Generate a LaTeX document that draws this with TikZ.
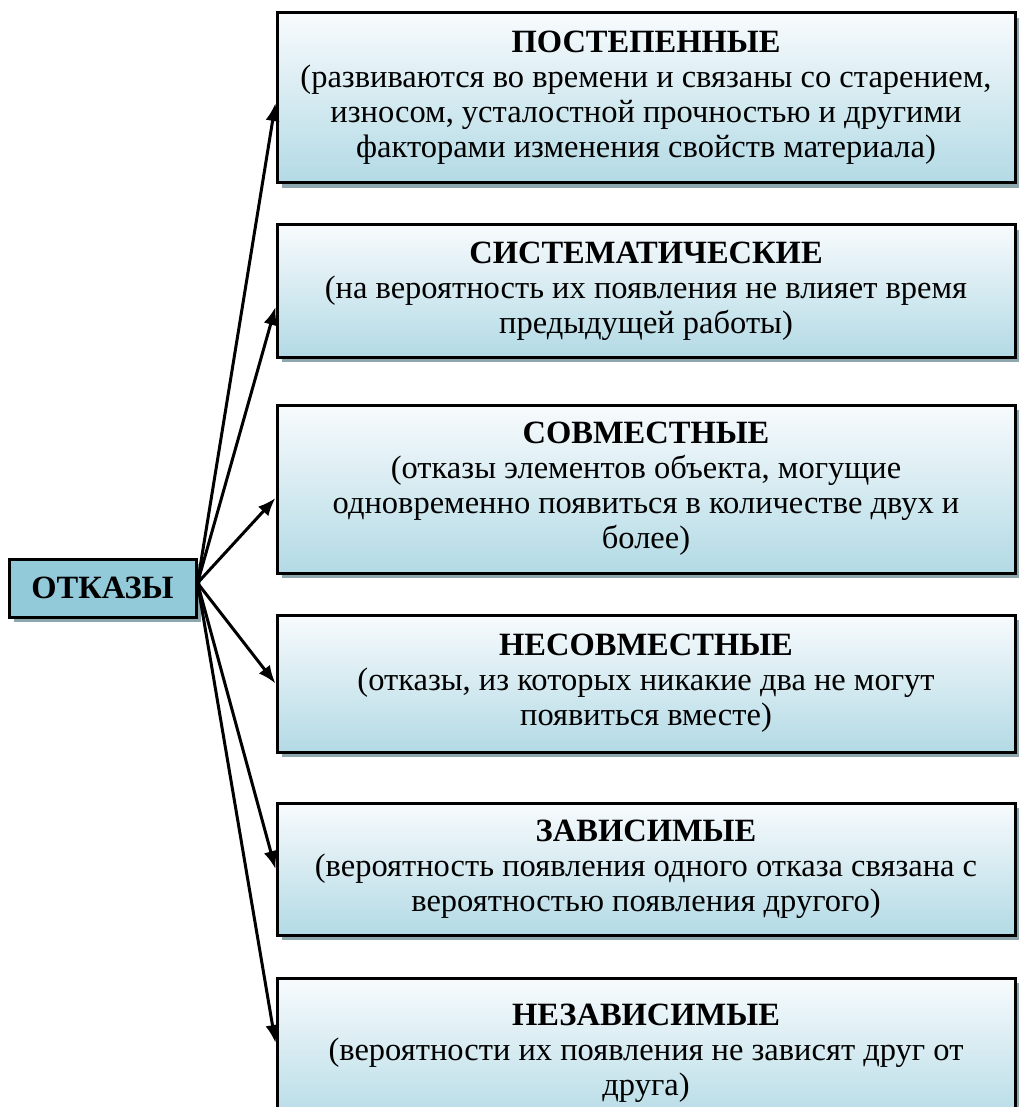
\documentclass[tikz,border=0pt]{standalone}
\usepackage{fontspec}
\setmainfont{Liberation Serif}
\usetikzlibrary{positioning,arrows.meta,shadows}
\definecolor{boxtop}{HTML}{F8FBFD}
\definecolor{boxbot}{HTML}{B3DAE5}
\definecolor{srcblue}{HTML}{92CADA}
\definecolor{shadowgray}{HTML}{8EA7AE}

\begin{document}
\begin{tikzpicture}[x=1pt, y=-1pt,
      box/.style={rectangle, draw=black, line width=3pt,
        top color=boxtop, bottom color=boxbot,
        drop shadow={shadow xshift=5pt, shadow yshift=-5pt, fill=shadowgray, opacity=1},
        minimum width=738pt, align=center, inner sep=0pt,
        font=\fontsize{32.5}{35}\selectfont},
      arr/.style={-{Latex[length=18pt, width=14pt]}, line width=3pt}
    ]
      \useasboundingbox (0,0) rectangle (1018,1107);
      \node[box, minimum height=170pt] (b1) at (646,98)
        {\textbf{ПОСТЕПЕННЫЕ}\\(развиваются во времени и связаны со старением,\\износом, усталостной прочностью и другими\\факторами изменения свойств материала)};
      \node[box, minimum height=132pt] (b2) at (646,291)
        {\textbf{СИСТЕМАТИЧЕСКИЕ}\\(на вероятность их появления не влияет время\\предыдущей работы)};
      \node[box, minimum height=168pt] (b3) at (646,489)
        {\textbf{СОВМЕСТНЫЕ}\\(отказы элементов объекта, могущие\\одновременно появиться в количестве двух и\\более)};
      \node[box, minimum height=137pt] (b4) at (646,683.5)
        {\textbf{НЕСОВМЕСТНЫЕ}\\(отказы, из которых никакие два не могут\\появиться вместе)};
      \node[box, minimum height=132pt] (b5) at (646,869)
        {\textbf{ЗАВИСИМЫЕ}\\(вероятность появления одного отказа связана с\\вероятностью появления другого)};
      \node[box, minimum height=150pt] (b6) at (646,1053)
        {\textbf{НЕЗАВИСИМЫЕ}\\(вероятности их появления не зависят друг от\\друга)};
      \node[box, minimum width=187pt, minimum height=58pt,
        shading=axis, top color=srcblue, middle color=boxtop, bottom color=srcblue,
        shading angle=-35, font=\fontsize{32.5}{35}\selectfont\bfseries] (src) at (102.5,588) {ОТКАЗЫ};
      \foreach \b/\s in {b1/-5, b2/-16, b3/-9, b4/0, b5/0, b6/10}
        \draw[arr] ([yshift=5pt]src.east) -- ([yshift=\s pt]\b.west);
    \end{tikzpicture}
\end{document}
